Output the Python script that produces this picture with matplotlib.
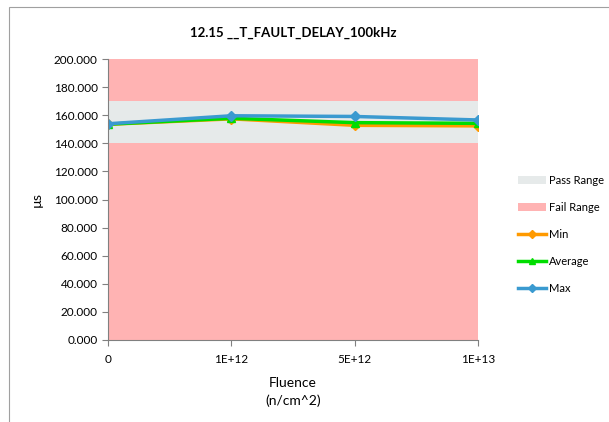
import matplotlib
matplotlib.use("Agg")
from matplotlib import pyplot as plt
from matplotlib.patches import Rectangle
import numpy as np

plt.rcParams['font.family'] = ['Lato', 'DejaVu Sans']

# chart data
categories = ["0", "1E+12", "5E+12", "1E+13"]
min_vals = [153.5, 157.4, 152.8, 152.4]
avg_vals = [153.6, 157.8, 154.7, 154.2]
max_vals = [153.9, 159.6, 159.1, 156.6]
fail_range = [0.0, 200.0]
pass_range = [140.0, 170.0]
yticks = np.arange(0, 201, 20)

fig = plt.figure(figsize=(6.09, 4.22), dpi=100)
# outer chart border
fig.patches.append(Rectangle((9/609, -0.1), 1.2, (422-7)/422 + 0.1, transform=fig.transFigure,
                             fill=False, edgecolor='#a0a0a0', linewidth=0.8))

ax = fig.add_axes([108/609, (422-340)/422, 370/609, 281/422])
x = np.arange(len(categories))

ax.fill_between([x[0], x[-1]], fail_range[0], fail_range[1], color='#FFB3B3', linewidth=0, label='Fail Range')
ax.fill_between([x[0], x[-1]], pass_range[0], pass_range[1], color='#E6EAEA', linewidth=0, label='Pass Range')

ax.plot(x, min_vals, color='#FF9A00', lw=2.5, marker='D', ms=5, label='Min')
ax.plot(x, avg_vals, color='#00DD00', lw=2.5, marker='^', ms=6, label='Average')
ax.plot(x, max_vals, color='#3A9AD0', lw=2.5, marker='D', ms=5, label='Max')

ax.set_xlim(x[0], x[-1])
ax.set_ylim(0, 200)
ax.set_yticks(yticks)
ax.set_yticklabels(["%.3f" % v for v in yticks])
ax.set_xticks(x)
ax.set_xticklabels(categories)
ax.tick_params(axis='both', colors='#808080', labelcolor='black', labelsize=8.5, length=4, width=0.8)
ax.tick_params(axis='x', pad=6)
for s in ['top', 'right']:
    ax.spines[s].set_visible(False)
for s in ['left', 'bottom']:
    ax.spines[s].set_color('#808080')

ax.set_title("12.15 __T_FAULT_DELAY_100kHz", fontsize=9.5, fontweight='bold', pad=16)
ax.set_ylabel("µs", fontsize=10, labelpad=8)
ax.set_xlabel("Fluence\n(n/cm^2)", fontsize=10, labelpad=9, linespacing=1.5)

h, l = ax.get_legend_handles_labels()
order = [1, 0, 2, 3, 4]
ax.legend([h[i] for i in order], [l[i] for i in order], loc='center left',
          bbox_to_anchor=(1.08, 0.375), frameon=False, fontsize=8, handlelength=2.6,
          handletextpad=0.2, labelspacing=1.45, markerscale=0.8)

fig.savefig("out.png", dpi=100)
